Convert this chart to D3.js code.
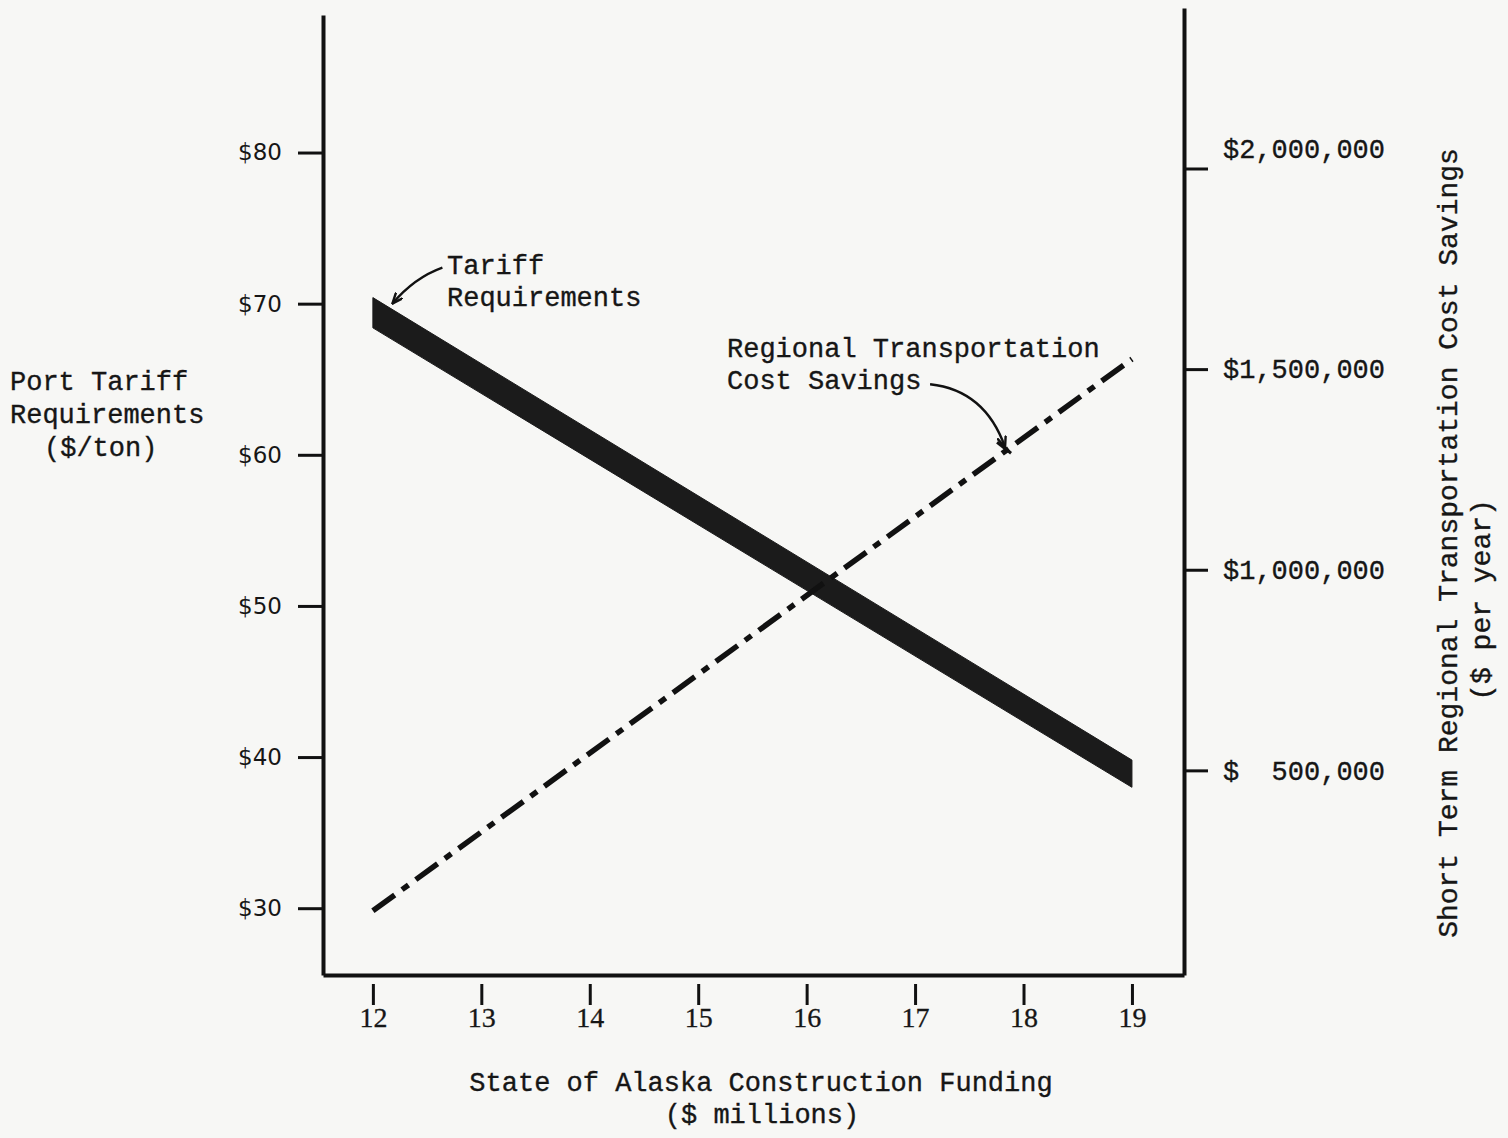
<!DOCTYPE html>
<html>
<head>
<meta charset="utf-8">
<script src="https://cdn.jsdelivr.net/npm/d3@7"></script>
<style>
  body { margin: 0; background: #f7f7f5; }
  svg { display: block; }
  text { fill: #161616; }
  .mono { font-family: "Liberation Mono", "DejaVu Sans Mono", monospace; font-size: 27px; stroke: #161616; stroke-width: 0.35; }
  .axis path, .axis line { stroke: #111; }
  .axis path { stroke-width: 4; }
  .axis line { stroke-width: 3; }
  .axis.left text { font-family: "DejaVu Sans", "Liberation Sans", sans-serif; font-size: 23px; }
  .axis.bottom text { font-family: "Liberation Serif", "DejaVu Serif", serif; font-size: 28px; stroke: #161616; stroke-width: 0.3; }
  .axis.right text { font-family: "Liberation Mono", "DejaVu Sans Mono", monospace; font-size: 27px; white-space: pre; stroke: #161616; stroke-width: 0.35; }
</style>
</head>
<body>
<div id="chart"></div>
<script>
// funding levels ($ millions) at the two ends of each line
const fundingLevels = [12, 19];
// tariff band, upper and lower edge ($/ton)
const tariffHigh = [70.4, 39.8];
const tariffLow = [68.4, 38.0];
// regional transportation cost savings ($ per year)
const savings = [150000, 1525000];

const xTicks = [12, 13, 14, 15, 16, 17, 18, 19];
const leftTicks = [30, 40, 50, 60, 70, 80];
const rightTicks = [500000, 1000000, 1500000, 2000000];
const rightTickLabels = ["$  500,000", "$1,000,000", "$1,500,000", "$2,000,000"];

const width = 1508;
const height = 1138;

const rows = fundingLevels.map((f, i) => ({
  funding: f,
  high: tariffHigh[i],
  low: tariffLow[i],
  savings: savings[i]
}));

const svg = d3.select("#chart")
  .append("svg")
  .attr("width", width)
  .attr("height", height);

svg.append("rect").attr("width", width).attr("height", height).attr("fill", "#f7f7f5");

const x = d3.scaleLinear().domain([11.54, 19.48]).range([323, 1184]);
const yL = d3.scaleLinear().domain([25.58, 89.1]).range([975, 15]);
const yR = d3.scaleLinear().domain([-10000, 2400000]).range([975, 8]);

// arrowhead
svg.append("defs").append("marker")
  .attr("id", "arrow")
  .attr("viewBox", "0 0 12 10")
  .attr("refX", 11)
  .attr("refY", 5)
  .attr("markerWidth", 12)
  .attr("markerHeight", 10)
  .attr("markerUnits", "userSpaceOnUse")
  .attr("orient", "auto")
  .append("path")
  .attr("d", "M0,0.5 L11,5 L0,9.5")
  .attr("fill", "none")
  .attr("stroke", "#111")
  .attr("stroke-width", 2.4);

// axes
const xAxisG = svg.append("g")
  .attr("class", "axis bottom")
  .attr("transform", "translate(0,975)")
  .call(d3.axisBottom(x).tickValues(xTicks).tickSize(30).tickSizeOuter(0).tickPadding(2).tickFormat(d3.format("d")));
xAxisG.selectAll(".tick line").attr("y1", 9);

svg.append("g")
  .attr("class", "axis left")
  .attr("transform", "translate(323,0)")
  .call(d3.axisLeft(yL).tickValues(leftTicks).tickSize(25).tickSizeOuter(0).tickPadding(16).tickFormat(d => "$" + d));

const rightAxisG = svg.append("g")
  .attr("class", "axis right")
  .attr("transform", "translate(1184,0)")
  .call(d3.axisRight(yR).tickValues(rightTicks).tickSize(24).tickSizeOuter(0).tickPadding(15)
    .tickFormat(d => rightTickLabels[rightTicks.indexOf(d)]));
rightAxisG.selectAll(".tick text")
  .attr("xml:space", "preserve")
  .filter(d => d === 2000000)
  .attr("y", -20);

// tariff requirement band
const band = d3.area()
  .x(d => x(d.funding))
  .y0(d => yL(d.low))
  .y1(d => yL(d.high));

svg.append("path")
  .datum(rows)
  .attr("d", band)
  .attr("fill", "#1b1b1b")
  .attr("stroke", "#1b1b1b")
  .attr("stroke-width", 1);

// savings line
const savingsLine = d3.line()
  .x(d => x(d.funding))
  .y(d => yR(d.savings));

svg.append("path")
  .datum(rows)
  .attr("d", savingsLine)
  .attr("fill", "none")
  .attr("stroke", "#111")
  .attr("stroke-width", 5.5)
  .attr("stroke-dasharray", "27,9,8,9");

// annotations
const tariffTip = [x(12.18), yL(70.0)];
svg.append("path")
  .attr("d", `M${tariffTip[0] + 50},${tariffTip[1] - 36} Q${tariffTip[0] + 22},${tariffTip[1] - 26} ${tariffTip[0]},${tariffTip[1]}`)
  .attr("fill", "none")
  .attr("stroke", "#111")
  .attr("stroke-width", 2.4)
  .attr("marker-end", "url(#arrow)");

svg.append("text").attr("class", "mono").attr("x", 447).attr("y", 274).text("Tariff");
svg.append("text").attr("class", "mono").attr("x", 447).attr("y", 306).text("Requirements");

// arrow from the label to the savings line near funding = 17.83
const arrowAt = 17.83;
const savingsAt = d3.scaleLinear().domain(fundingLevels).range(savings)(arrowAt);
const savingsTip = [x(arrowAt), yR(savingsAt) - 4];
svg.append("path")
  .attr("d", `M${savingsTip[0] - 75},${savingsTip[1] - 63} Q${savingsTip[0] - 20},${savingsTip[1] - 57} ${savingsTip[0]},${savingsTip[1]}`)
  .attr("fill", "none")
  .attr("stroke", "#111")
  .attr("stroke-width", 2.4)
  .attr("marker-end", "url(#arrow)");
svg.append("line")
  .attr("x1", savingsTip[0] - 8).attr("y1", savingsTip[1] - 5)
  .attr("x2", savingsTip[0] + 6).attr("y2", savingsTip[1] + 6)
  .attr("stroke", "#111")
  .attr("stroke-width", 3);

svg.append("text").attr("class", "mono").attr("x", 727).attr("y", 357).text("Regional Transportation");
svg.append("text").attr("class", "mono").attr("x", 727).attr("y", 389).text("Cost Savings");

// axis titles
svg.append("text").attr("class", "mono").attr("x", 10).attr("y", 390).text("Port Tariff");
svg.append("text").attr("class", "mono").attr("x", 10).attr("y", 423).text("Requirements");
svg.append("text").attr("class", "mono").attr("x", 44).attr("y", 456).text("($/ton)");

svg.append("text").attr("class", "mono").attr("x", 761).attr("y", 1091)
  .attr("text-anchor", "middle").text("State of Alaska Construction Funding");
svg.append("text").attr("class", "mono").attr("x", 762).attr("y", 1123)
  .attr("text-anchor", "middle").text("($ millions)");

svg.append("text").attr("class", "mono")
  .attr("transform", "translate(1457,543) rotate(-90)")
  .attr("text-anchor", "middle")
  .style("font-size", "28px")
  .text("Short Term Regional Transportation Cost Savings");
svg.append("text").attr("class", "mono")
  .attr("transform", "translate(1490,600) rotate(-90)")
  .attr("text-anchor", "middle")
  .style("font-size", "28px")
  .text("($ per year)");
</script>
</body>
</html>
